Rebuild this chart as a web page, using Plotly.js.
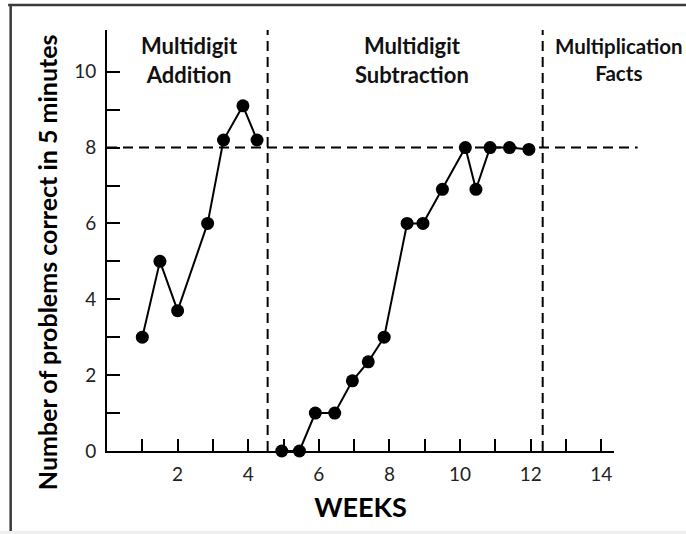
<!DOCTYPE html>
<html>
<head>
<meta charset="utf-8">
<script src="https://cdn.plot.ly/plotly-3.0.1.min.js"></script>
<style>
  html, body { margin: 0; padding: 0; background: #ffffff; }
  #chart { width: 686px; height: 534px; }
</style>
</head>
<body>
<div id="chart"></div>
<script>
// Phase 1: Multidigit Addition
const weeksAddition = [1, 1.5, 2, 2.85, 3.3, 3.85, 4.25];
const correctAddition = [3, 5, 3.7, 6, 8.2, 9.1, 8.2];

// Phase 2: Multidigit Subtraction
const weeksSubtraction = [4.95, 5.45, 5.9, 6.45, 6.95, 7.4, 7.85, 8.5, 8.95, 9.5, 10.15, 10.45, 10.85, 11.4, 11.95];
const correctSubtraction = [0, 0, 1, 1, 1.85, 2.35, 3, 6, 6, 6.9, 8, 6.9, 8, 8, 7.95];

// Phase change lines (weeks) and criterion level
const phaseChanges = [4.55, 12.34];
const criterion = 8;

// Phase labels
const phaseLabels = ["Multidigit<br>Addition", "Multidigit<br>Subtraction", "Multiplication<br>Facts"];
const phaseLabelX = [0.163, 0.601, 1.009];
const phaseLabelSize = [22, 22, 20.5];

// Axis ticks
const xTickVals = [1, 2, 3, 4, 5, 6, 7, 8, 9, 10, 11, 12, 13, 14];
const xTickText = ["", "2", "", "4", "", "6", "", "8", "", "10", "", "12", "", "14"];
const yTickVals = [0, 1, 2, 3, 4, 5, 6, 7, 8, 9, 10];
const yTickText = ["0", "", "2", "", "4", "", "6", "", "8", "", "10"];

const lineStyle = { color: "#000000", width: 2 };
const markerStyle = { color: "#000000", size: 13, symbol: "circle" };

const traces = [
  {
    x: weeksAddition, y: correctAddition, type: "scatter", mode: "lines+markers",
    line: lineStyle, marker: markerStyle, cliponaxis: false, showlegend: false, name: "Addition"
  },
  {
    x: weeksSubtraction, y: correctSubtraction, type: "scatter", mode: "lines+markers",
    line: lineStyle, marker: markerStyle, cliponaxis: false, showlegend: false, name: "Subtraction"
  }
];

const dashStyle = { color: "#000000", width: 2, dash: "10px,6px" };
const shapes = [];
phaseChanges.forEach(w => {
  shapes.push({ type: "line", xref: "x", yref: "paper", x0: w, x1: w, y0: 0, y1: 1.0, line: dashStyle });
});
shapes.push({ type: "line", xref: "paper", yref: "y", x0: 0, x1: 1.0466, y0: criterion, y1: criterion, line: dashStyle });
// picture frame
shapes.push({ type: "rect", xref: "paper", yref: "paper", x0: -0.3, x1: 1.2, y0: -0.19, y1: -0.3, line: { width: 0 }, fillcolor: "#eeeeee", layer: "below" });
shapes.push({ type: "line", xref: "paper", yref: "paper", x0: -0.19, x1: -0.19, y0: -0.19, y1: 1.0594, line: { color: "#3a3a3a", width: 2.5 } });
shapes.push({ type: "line", xref: "paper", yref: "paper", x0: -0.195, x1: 1.2, y0: 1.0594, y1: 1.0594, line: { color: "#3a3a3a", width: 2.5 } });

const annotations = phaseLabels.map((t, i) => ({
  text: t, xref: "paper", yref: "paper", x: phaseLabelX[i], y: 0.929,
  xanchor: "center", yanchor: "middle", showarrow: false, align: "center",
  font: { family: "Lato, 'Open Sans', sans-serif", size: phaseLabelSize[i], color: "#111111", weight: "bold" }
}));
annotations.push({
  text: "<b>Number of problems correct in 5 minutes</b>", xref: "paper", yref: "paper",
  x: -0.118, y: 0.449, textangle: -90, showarrow: false, xanchor: "center", yanchor: "middle",
  font: { family: "Lato, 'Open Sans', sans-serif", size: 25, color: "#000000" }
});

const tickFont = { family: "Lato, 'Open Sans', sans-serif", size: 19, color: "#222222" };

const layout = {
  width: 686, height: 534,
  margin: { l: 107.3, r: 71.6, t: 30, b: 83 },
  paper_bgcolor: "#ffffff", plot_bgcolor: "#ffffff",
  showlegend: false,
  xaxis: {
    range: [0, 14.36], showgrid: false, zeroline: false,
    showline: true, linecolor: "#000000", linewidth: 2,
    ticks: "inside", ticklen: 12, tickwidth: 2, tickcolor: "#000000",
    tickvals: xTickVals, ticktext: xTickText, tickfont: tickFont,
    ticklabelstandoff: 5,
    title: { text: "<b>WEEKS</b>", font: { family: "Lato, 'Open Sans', sans-serif", size: 27, color: "#000000" }, standoff: 14 }
  },
  yaxis: {
    range: [0, 11.1], showgrid: false, zeroline: false,
    showline: true, linecolor: "#000000", linewidth: 2,
    ticks: "inside", ticklen: 13, tickwidth: 2, tickcolor: "#000000",
    tickvals: yTickVals, ticktext: yTickText, tickfont: tickFont,
    ticklabelstandoff: 5
  },
  shapes: shapes,
  annotations: annotations
};

Plotly.newPlot("chart", traces, layout, { displayModeBar: false, staticPlot: true });
</script>
</body>
</html>
